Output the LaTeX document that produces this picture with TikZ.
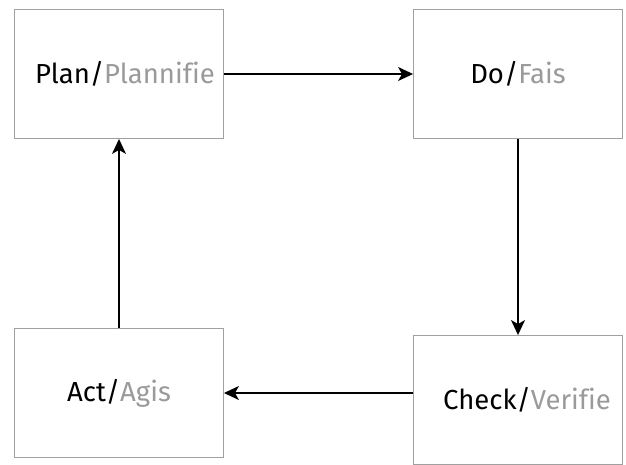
\documentclass[tikz,border=0pt]{standalone}
\usepackage{fontspec}
\setmainfont[Ligatures={NoCommon}]{Fira Sans}
\usetikzlibrary{arrows.meta, positioning}

\definecolor{boxgray}{HTML}{A0A0A0}
\definecolor{labelgray}{HTML}{9A9A9A}

\begin{document}
\begin{tikzpicture}[x=1pt, y=-1pt,
    phase/.style={draw=boxgray, line width=0.9pt, minimum width=209pt,
        minimum height=129pt, inner sep=0pt,
        font=\fontsize{27.5}{33}\selectfont},
    flow/.style={-{Stealth[length=15pt, width=14pt, inset=4pt]}, line width=1.5pt}]

    \useasboundingbox (0,0) rectangle (626,464);

    % Draw the four phases of the cycle
    \node[phase] (plan)  at (119,74)  {\hspace*{12pt}Plan/\textcolor{labelgray}{Plannifie}};
    \node[phase] (do)    at (518,74)  {Do/\textcolor{labelgray}{Fais}};
    \node[phase] (check) at (518,400) {\hspace*{18pt}Check/\textcolor{labelgray}{Verifie}};
    \node[phase] (act)   at (119,393) {Act/\textcolor{labelgray}{Agis}};

    % Connect the phases round the loop
    \draw[flow] (plan) -- (do);
    \draw[flow] (do) -- (check);
    \draw[flow] (check.west |- act) -- (act);
    \draw[flow] (act) -- (plan);

\end{tikzpicture}
\end{document}
